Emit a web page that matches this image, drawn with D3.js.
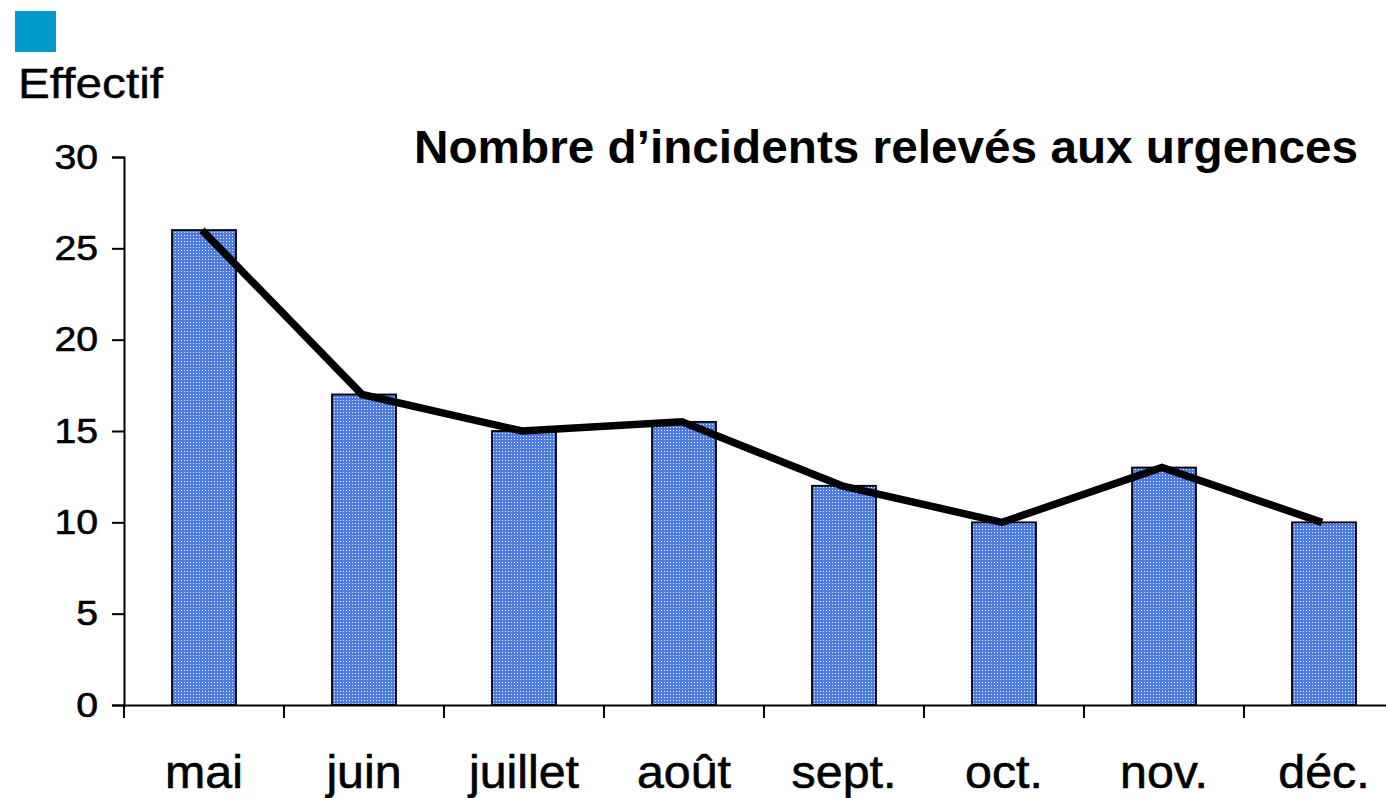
<!DOCTYPE html>
<html>
<head>
<meta charset="utf-8">
<script src="https://cdn.jsdelivr.net/npm/d3@7"></script>
<style>
  body { margin: 0; background: #fff; }
  svg { display: block; font-family: Arial, "Liberation Sans", sans-serif; }
</style>
</head>
<body>
<div id="chart"></div>
<script>
// donnees
const months = ['mai', 'juin', 'juillet', 'août', 'sept.', 'oct.', 'nov.', 'déc.'];
const incidents = [26, 17, 15, 15.5, 12, 10, 13, 10];
const yTicks = [0, 5, 10, 15, 20, 25, 30];

const width = 1386, height = 798;
const svg = d3.select('#chart').append('svg')
  .attr('width', width)
  .attr('height', height);

// elargir un texte (police de reference plus large qu'Arial)
function stretch(sel, k) {
  sel.each(function () {
    const w = this.getComputedTextLength();
    d3.select(this).attr('textLength', w * k).attr('lengthAdjust', 'spacingAndGlyphs');
  });
}

// motif pointille des barres
const pat = svg.append('defs').append('pattern')
  .attr('id', 'dots')
  .attr('width', 3).attr('height', 3)
  .attr('patternUnits', 'userSpaceOnUse');
pat.append('rect').attr('width', 3).attr('height', 3).attr('fill', '#4d7be2');
pat.append('rect').attr('x', 1).attr('y', 1).attr('width', 1).attr('height', 1).attr('fill', '#eef3fe');

// echelles
const x = d3.scaleBand()
  .domain(months)
  .range([124, 124 + 160 * months.length])
  .paddingInner(0)
  .paddingOuter(0);
const y = d3.scaleLinear()
  .domain([0, 30])
  .range([705, 157]);

const barW = 64;

// barres
svg.selectAll('rect.bar')
  .data(incidents)
  .enter()
  .append('rect')
  .attr('class', 'bar')
  .attr('x', (d, i) => x(months[i]) + x.bandwidth() / 2 - barW / 2)
  .attr('y', d => y(d))
  .attr('width', barW)
  .attr('height', d => y(0) - y(d))
  .attr('fill', 'url(#dots)')
  .attr('stroke', '#000')
  .attr('stroke-width', 1.8);

// axe y
const yAxis = svg.append('g')
  .attr('transform', 'translate(124,0)')
  .call(d3.axisLeft(y).tickValues(yTicks).tickSize(12).tickPadding(14));
yAxis.select('.domain').attr('stroke', '#000').attr('stroke-width', 2);
yAxis.selectAll('.tick line').attr('stroke', '#000').attr('stroke-width', 2);
yAxis.selectAll('.tick text')
  .attr('font-size', 35)
  .attr('fill', '#000')
  .attr('stroke', '#000')
  .attr('stroke-width', 0.6)
  .attr('font-family', 'Arial, "Liberation Sans", sans-serif')
  .call(stretch, 1.12);

// axe x
const xAxis = svg.append('g')
  .attr('transform', 'translate(0,705)')
  .call(d3.axisBottom(x).tickSize(0).tickPadding(0).tickFormat(''));
xAxis.select('.domain').attr('stroke', '#000').attr('stroke-width', 2);
const bounds = d3.range(months.length + 1).map(i => 124 + i * x.bandwidth());
xAxis.selectAll('line.sep')
  .data(bounds)
  .enter()
  .append('line')
  .attr('class', 'sep')
  .attr('x1', d => d).attr('x2', d => d)
  .attr('y1', 0).attr('y2', 13)
  .attr('stroke', '#000')
  .attr('stroke-width', 2);

// libelles des mois
svg.selectAll('text.month')
  .data(months)
  .enter()
  .append('text')
  .attr('class', 'month')
  .attr('x', d => x(d) + x.bandwidth() / 2)
  .attr('y', 788)
  .attr('text-anchor', 'middle')
  .attr('font-size', 46)
  .attr('fill', '#000')
  .attr('stroke', '#000')
  .attr('stroke-width', 0.6)
  .text(d => d)
  .call(stretch, 1.05);

// courbe
const line = d3.line()
  .x((d, i) => x(months[i]) + x.bandwidth() / 2 - 2)
  .y(d => y(d));
svg.append('path')
  .datum(incidents)
  .attr('d', line)
  .attr('fill', 'none')
  .attr('stroke', '#000')
  .attr('stroke-width', 7.5)
  .attr('stroke-linejoin', 'miter');

// titre et legende
svg.append('text')
  .attr('x', 1358)
  .attr('y', 163)
  .attr('text-anchor', 'end')
  .attr('font-size', 46)
  .attr('font-weight', 'bold')
  .attr('fill', '#000')
  .text('Nombre d’incidents relevés aux urgences')
  .attr('textLength', 944)
  .attr('lengthAdjust', 'spacingAndGlyphs');

svg.append('rect')
  .attr('x', 15).attr('y', 11)
  .attr('width', 41).attr('height', 41)
  .attr('fill', '#0099cc');

svg.append('text')
  .attr('x', 18)
  .attr('y', 98)
  .attr('font-size', 42)
  .attr('fill', '#000')
  .attr('stroke', '#000')
  .attr('stroke-width', 0.4)
  .text('Effectif')
  .attr('textLength', 145)
  .attr('lengthAdjust', 'spacingAndGlyphs');
</script>
</body>
</html>
